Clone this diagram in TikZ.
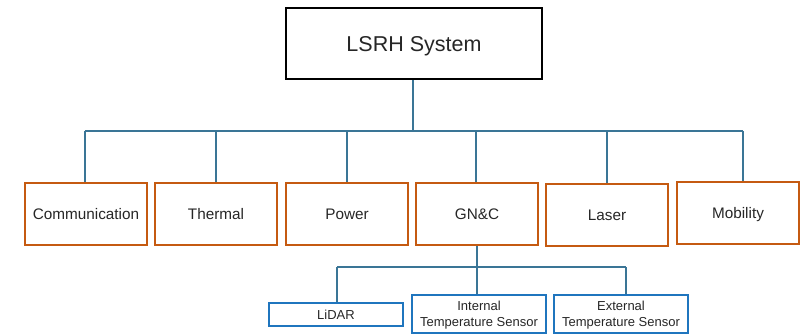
\documentclass[tikz,border=0pt]{standalone}
\usepackage{fontspec}
\setmainfont{Liberation Sans}
\definecolor{orng}{HTML}{C55A11}
\definecolor{lnk}{HTML}{3A7596}
\definecolor{subb}{HTML}{1F75BE}
\begin{document}
\begin{tikzpicture}[x=1pt,y=-1pt,
  topbox/.style={draw=black,line width=2pt,minimum width=256pt,minimum height=71pt,inner sep=0pt,text height=15.4pt,text depth=0pt,font=\fontsize{21.5}{24}\selectfont,text=black!85},
  midbox/.style={draw=orng,line width=2pt,minimum width=122pt,minimum height=62pt,inner sep=0pt,text height=11pt,text depth=0pt,font=\fontsize{15.3}{17}\selectfont,text=black!85},
  subbox/.style={draw=subb,line width=2pt,minimum width=134pt,inner sep=0pt,align=center,text depth=0pt,font=\fontsize{13}{16.5}\selectfont,text=black!85},
  conn/.style={draw=lnk,line width=1.2pt}]
\useasboundingbox (0,0) rectangle (807,335);
\node[topbox] (top) at (414,43.5) {LSRH System};
\node[midbox] (comm) at (86,214) {Communication};
\node[midbox] (therm) at (216,214) {Thermal};
\node[midbox] (pow) at (347,214) {Power};
\node[midbox] (gnc) at (477,214) {GN\&C};
\node[midbox] (las) at (607,215) {Laser};
\node[midbox] (mob) at (738,213) {Mobility};
\node[subbox,minimum height=23pt] (lidar) at (336,314.5) {LiDAR};
\node[subbox,minimum height=38pt] (itemp) at (479,314) {Internal\\Temperature Sensor};
\node[subbox,minimum height=38pt] (etemp) at (621,314) {External\\Temperature Sensor};
\coordinate (bus) at (413,131);
\draw[conn] (top.south -| bus) -- (bus);
\draw[conn] (85,131) -- (743,131);
\draw[conn] (85,131) -- (85,131 |- comm.north);
\draw[conn] (216,131) -- (therm.north);
\draw[conn] (347,131) -- (pow.north);
\draw[conn] (476,131) -- (476,131 |- gnc.north);
\draw[conn] (607,131) -- (las.north);
\draw[conn] (743,131) -- (743,131 |- mob.north);
\coordinate (sbus) at (477,267);
\draw[conn] (gnc.south) -- (sbus);
\draw[conn] (337,267) -- (626,267);
\draw[conn] (337,267) -- (337,267 |- lidar.north);
\draw[conn] (sbus) -- (477,267 |- itemp.north);
\draw[conn] (626,267) -- (626,267 |- etemp.north);
\end{tikzpicture}
\end{document}
